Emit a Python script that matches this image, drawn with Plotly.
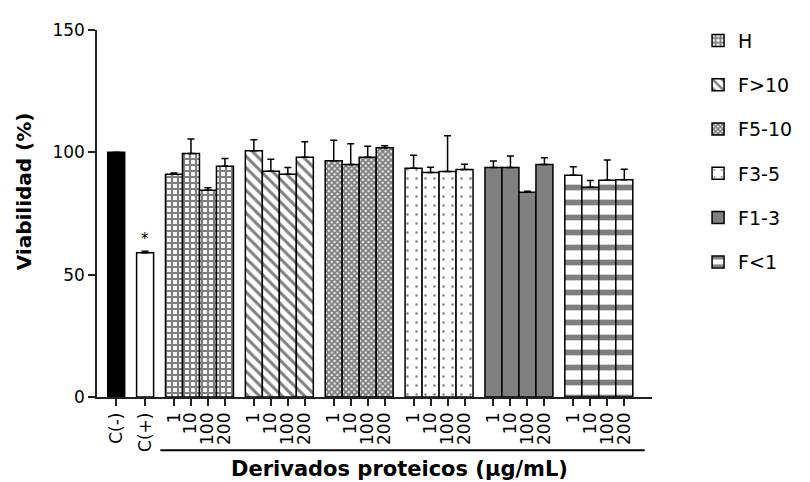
import plotly.graph_objects as go

# ---------------- data ----------------
control_labels = ["C(-)", "C(+)"]
control_values = [100, 59]
control_errors = [0, 0.6]

dose_labels = ["1", "10", "100", "200"]
series_names = ["H", "F>10", "F5-10", "F3-5", "F1-3", "F<1"]
H_vals = [91, 99.5, 84.5, 94.3]
H_err = [0.6, 6.0, 1.0, 3.2]
F10_vals = [100.6, 92.3, 91.0, 98.0]
F10_err = [4.5, 4.9, 2.8, 6.3]
F510_vals = [96.6, 95.0, 98.0, 101.9]
F510_err = [8.3, 8.5, 4.5, 0.8]
F35_vals = [93.5, 91.8, 92.2, 93.0]
F35_err = [5.3, 2.1, 14.6, 2.1]
F13_vals = [93.8, 93.8, 83.7, 95.0]
F13_err = [2.7, 4.7, 0.4, 2.8]
F1_vals = [90.6, 85.7, 88.6, 88.8]
F1_err = [3.5, 2.8, 8.3, 4.3]

series_values = [H_vals, F10_vals, F510_vals, F35_vals, F13_vals, F1_vals]
series_errors = [H_err, F10_err, F510_err, F35_err, F13_err, F1_err]

y_ticks = [0, 50, 100, 150]

# ---------------- layout helpers ----------------
GAP = 1.7  # spacing between groups (in bar-width units)
ctrl_x = [0, GAP]
group_x = []
start = 2 * GAP
for g in range(len(series_names)):
    group_x.append([start + j for j in range(len(dose_labels))])
    start += len(dose_labels) - 1 + GAP

styles = [
    dict(color="white", pattern=dict(shape="+", size=6, solidity=0.6, fgcolor="black")),
    dict(color="white", pattern=dict(shape="\\", size=8, solidity=0.38, fgcolor="black")),
    dict(color="white", pattern=dict(shape="x", size=4, solidity=0.75, fgcolor="black")),
    dict(color="white", pattern=dict(shape=".", size=9, solidity=0.06, fgcolor="black")),
    dict(color="#808080"),
    dict(color="white", pattern=dict(shape="-", size=15, solidity=0.38, fgcolor="black")),
]

FONT = "DejaVu Sans"
fig = go.Figure()

# controls
fig.add_trace(go.Bar(
    x=ctrl_x, y=control_values, width=1.0,
    marker=dict(color=["black", "white"], line=dict(color="black", width=1.5)),
    error_y=dict(type="data", array=control_errors, arrayminus=[0, 0], symmetric=False,
                 color="black", thickness=1.5, width=3.5),
    showlegend=False, hoverinfo="skip"))

for name, xs, vals, errs, st in zip(series_names, group_x, series_values, series_errors, styles):
    marker = dict(line=dict(color="black", width=1.5), **st)
    fig.add_trace(go.Bar(
        x=xs, y=vals, width=1.0, name=name, legendgroup=name,
        marker=marker,
        error_y=dict(type="data", array=errs, arrayminus=[0] * len(errs), symmetric=False,
                     color="black", thickness=1.5, width=3.5),
        hoverinfo="skip"))

tickvals = list(ctrl_x) + [x for xs in group_x for x in xs]
ticktext = list(control_labels) + dose_labels * len(series_names)

x_lo = ctrl_x[0] - 1.13
x_hi = group_x[-1][-1] + 1.63

# the page body has an 8px margin, so the figure is 8px smaller than the window
fig.update_layout(
    width=802, height=474,
    margin=dict(l=88.5, r=158, t=17, b=85),
    plot_bgcolor="white", paper_bgcolor="white",
    barmode="overlay",
    font=dict(family=FONT, size=17, color="black"),
    showlegend=True,
    legend=dict(x=1.083, xanchor="left", y=1.023, yanchor="top", maxheight=460,
                font=dict(family=FONT, size=19, color="black"),
                tracegroupgap=16.6, bgcolor="rgba(0,0,0,0)"),
    xaxis=dict(range=[x_lo, x_hi], tickmode="array", tickvals=tickvals, ticktext=ticktext,
               tickangle=-90, ticks="outside", ticklen=7, tickwidth=1.5, tickcolor="#222",
               showline=True, linecolor="#222", linewidth=1.5, showgrid=False, zeroline=False,
               tickfont=dict(family=FONT, size=17, color="black")),
    yaxis=dict(range=[0, 150], tickmode="array", tickvals=y_ticks,
               ticks="outside", ticklen=7, tickwidth=1.5, tickcolor="#222",
               showline=True, linecolor="#222", linewidth=1.5, showgrid=False, zeroline=False,
               tickfont=dict(family=FONT, size=17, color="black")),
)

# asterisk above C(+)
fig.add_annotation(x=ctrl_x[1], y=control_values[1] + control_errors[1], text="*",
                   showarrow=False, yanchor="bottom", yshift=1,
                   font=dict(family=FONT, size=15, color="black"))

# underline for the protein-derivative groups
fig.add_shape(type="line", xref="x", yref="paper",
              x0=group_x[0][0] - 0.8, x1=group_x[-1][-1] + 1.2,
              y0=-0.145, y1=-0.145, line=dict(color="black", width=2))

fig.add_annotation(x=(group_x[0][0] + group_x[-1][-1]) / 2, xref="x", y=-0.195, yref="paper",
                   text="<b>Derivados proteicos (μg/mL)</b>", showarrow=False,
                   yanchor="middle", font=dict(family=FONT, size=21, color="black"))

fig.add_annotation(x=-0.13, xref="paper", y=0.56, yref="paper",
                   text="<b>Viabilidad (%)</b>", textangle=-90, showarrow=False,
                   xanchor="center", yanchor="middle",
                   font=dict(family=FONT, size=20, color="black"))

fig.write_html("out.html")
